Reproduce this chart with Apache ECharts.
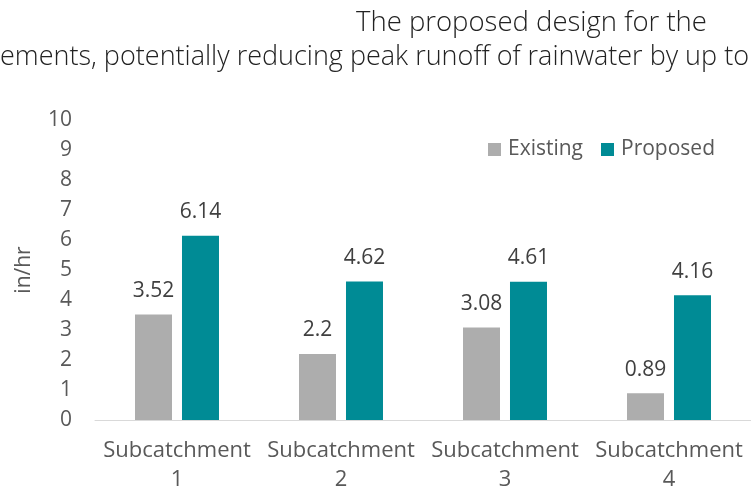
<!DOCTYPE html>
<html>
<head>
<meta charset="utf-8">
<script src="https://cdn.jsdelivr.net/npm/echarts@6/dist/echarts.min.js"></script>
<style>
  html, body { margin: 0; padding: 0; background: #fff; }
  #container { width: 751px; height: 486px; }
</style>
</head>
<body>
<div id="container"></div>
<script>
  // chart data
  var categories = ['Subcatchment\n1', 'Subcatchment\n2', 'Subcatchment\n3', 'Subcatchment\n4'];
  var existing = [3.52, 2.2, 3.08, 0.89];
  var proposed = [6.14, 4.62, 4.61, 4.16];
  var titleLines = ['The proposed design for the', 'ements, potentially reducing peak runoff of rainwater by up to'];

  var font = 'Open Sans';

  var option = {
    animation: false,
    title: [{
      text: titleLines[0],
      left: 351,
      top: 4,
      textStyle: { fontFamily: font, fontWeight: 300, fontSize: 27.5, color: '#222' }
    }, {
      text: titleLines[1],
      left: -5,
      top: 39,
      textStyle: { fontFamily: font, fontWeight: 300, fontSize: 27, color: '#222' }
    }],
    legend: {
      right: 31,
      top: 134,
      itemWidth: 13,
      itemHeight: 13,
      itemGap: 18,
      icon: 'rect',
      textStyle: { fontFamily: font, fontSize: 21, color: '#595959', padding: [0, 0, 0, 2] },
      data: ['Existing', 'Proposed']
    },
    grid: { left: 95, right: 0, top: 120, bottom: 66, outerBoundsMode: 'none' },
    xAxis: {
      type: 'category',
      data: categories,
      axisLine: { lineStyle: { color: '#d9d9d9', width: 1 } },
      axisTick: { show: false },
      axisLabel: {
        fontFamily: font, fontSize: 22, color: '#595959',
        lineHeight: 29, margin: 16, interval: 0
      }
    },
    yAxis: {
      type: 'value',
      min: 0,
      max: 10,
      interval: 1,
      name: 'in/hr',
      nameLocation: 'middle',
      nameGap: 60,
      nameTextStyle: { fontFamily: font, fontSize: 21, color: '#595959' },
      axisLine: { show: false },
      axisTick: { show: false },
      splitLine: { show: false },
      axisLabel: { fontFamily: font, fontSize: 21, color: '#595959', margin: 23 }
    },
    series: [{
      name: 'Existing',
      type: 'bar',
      data: existing,
      barWidth: 37,
      barGap: '27%',
      itemStyle: { color: '#adadad' },
      label: {
        show: true, position: 'top', distance: 13,
        fontFamily: font, fontSize: 21, color: '#404040'
      }
    }, {
      name: 'Proposed',
      type: 'bar',
      data: proposed,
      barWidth: 37,
      itemStyle: { color: '#008b95' },
      label: {
        show: true, position: 'top', distance: 13,
        fontFamily: font, fontSize: 21, color: '#404040'
      }
    }]
  };

  var myChart = echarts.init(document.getElementById('container'), null, { renderer: 'canvas' });
  myChart.setOption(option);
</script>
</body>
</html>
